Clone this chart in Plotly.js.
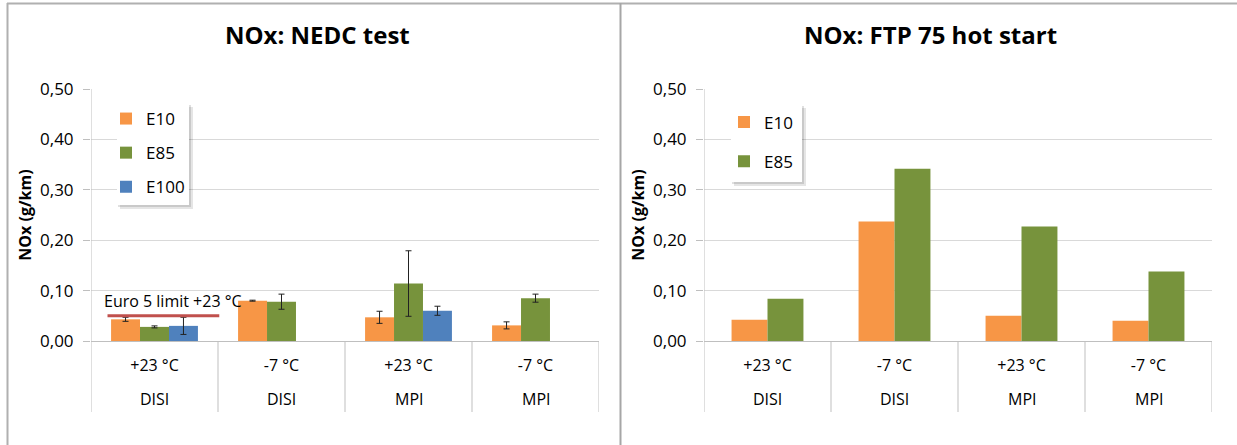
<!DOCTYPE html>
<html>
<head>
<meta charset="utf-8">
<script src="https://cdn.plot.ly/plotly-3.0.1.min.js"></script>
<style>html,body{margin:0;padding:0;background:#fff;}#chart{width:1237px;height:445px;}</style>
</head>
<body>
<div id="chart"></div>
<script>
// ---- data ----
const engines = ['DISI', 'DISI', 'MPI', 'MPI'];
const temps = ['+23 °C', '-7 °C', '+23 °C', '-7 °C'];
const fuels = ['E10', 'E85', 'E100'];

// NEDC test (g/km) and error half-widths
const nedcE10 = [0.043, 0.080, 0.047, 0.031];
const nedcE85 = [0.028, 0.078, 0.114, 0.085];
const nedcE100 = [0.030, null, 0.060, null];
const nedcE10Err = [0.004, 0.001, 0.012, 0.007];
const nedcE85Err = [0.002, 0.015, 0.065, 0.008];
const nedcE100Err = [0.017, null, 0.009, null];

// FTP 75 hot start (g/km)
const ftpE10 = [0.042, 0.237, 0.050, 0.040];
const ftpE85 = [0.084, 0.342, 0.227, 0.138];

const euro5Limit = 0.05;
const euro5Label = 'Euro 5 limit +23 °C';

const yTicks = [0, 0.1, 0.2, 0.3, 0.4, 0.5];

// ---- layout helpers ----
const W = 1237, H = 445;
const px = v => v / W;
const py = v => 1 - v / H;
const FONT = 'Open Sans, Liberation Sans, sans-serif';
const colors = {E10: '#f79646', E85: '#77933c', E100: '#4f81bd'};

const cats = engines.map((e, i) => e + '|' + temps[i] + '|' + i);

function barTrace(name, y, err, xa, ya, leg, w, k, n) {
  const t = {
    type: 'bar', name: name, x: cats, y: y,
    xaxis: xa, yaxis: ya, legend: leg, legendgroup: leg + name,
    marker: {color: colors[name], line: {width: 0}},
    width: w, offset: -n * w / 2 + k * w,
    hoverinfo: 'y'
  };
  if (err) t.error_y = {type: 'data', array: err, visible: true, color: '#222', thickness: 1, width: 3};
  return t;
}

const wL = 0.228, wR = 0.283;
const data = [
  barTrace('E10', nedcE10, nedcE10Err, 'x', 'y', 'legend', wL, 0, 3),
  barTrace('E85', nedcE85, nedcE85Err, 'x', 'y', 'legend', wL, 1, 3),
  barTrace('E100', nedcE100, nedcE100Err, 'x', 'y', 'legend', wL, 2, 3),
  barTrace('E10', ftpE10, null, 'x2', 'y2', 'legend2', wR, 0, 2),
  barTrace('E85', ftpE85, null, 'x2', 'y2', 'legend2', wR, 1, 2)
];

function xaxisDef(d0, d1, anchor) {
  return {
    domain: [px(d0), px(d1)], anchor: anchor, type: 'category',
    range: [-0.5, cats.length - 0.5], fixedrange: true,
    tickmode: 'array', tickvals: cats, ticktext: temps,
    ticks: '', showline: true, linecolor: '#bfbfbf', linewidth: 1,
    showgrid: false, zeroline: false,
    tickfont: {family: FONT, size: 16, color: '#000'},
    ticklabelstandoff: 10
  };
}
function yaxisDef(anchor) {
  return {
    domain: [py(341), py(89)], anchor: anchor, range: [0, 0.5], fixedrange: true,
    tickmode: 'array', tickvals: yTicks, tickformat: '.2f',
    ticks: 'outside', ticklen: 7, tickcolor: '#bfbfbf',
    showgrid: true, gridcolor: '#d9d9d9', gridwidth: 1,
    zeroline: false, showline: false,
    tickfont: {family: FONT, size: 17, color: '#000'},
    ticklabelstandoff: 6,
    title: {text: 'NOx (g/km)', font: {family: FONT, size: 16, color: '#000', weight: 'bold'}, standoff: 4}
  };
}

const shapes = [];
const annotations = [];
// category separators (including axis line on left) and outer category labels
[['x', 'y'], ['x2', 'y2']].forEach(([xa, ya]) => {
  for (let i = 0; i <= cats.length; i++) {
    shapes.push({type: 'line', xref: xa, yref: ya + ' domain',
      x0: i - 0.5, x1: i - 0.5, y0: -(412 - 341) / 252, y1: i === 0 ? 1 : 0,
      line: {color: '#bfbfbf', width: 1}, layer: 'above'});
  }
  engines.forEach((e, i) => {
    annotations.push({text: e, xref: xa, yref: 'paper', x: cats[i], y: py(399),
      xanchor: 'center', yanchor: 'middle', showarrow: false,
      font: {family: FONT, size: 16, color: '#000'}});
  });
});
// Euro 5 limit line
shapes.push({type: 'line', xref: 'x', yref: 'y', x0: -0.37, x1: 0.51,
  y0: euro5Limit, y1: euro5Limit, line: {color: '#c0504d', width: 3}, layer: 'above'});

// legend boxes with shadow
function legendBox(x0, y0, x1, y1) {
  shapes.push({type: 'rect', xref: 'paper', yref: 'paper', x0: px(x0 + 3), x1: px(x1 + 4), y0: py(y1 + 4), y1: py(y0 + 3),
    fillcolor: 'rgba(0,0,0,0.10)', line: {width: 0}, layer: 'above'});
  shapes.push({type: 'rect', xref: 'paper', yref: 'paper', x0: px(x0 + 1), x1: px(x1 + 2), y0: py(y1 + 2), y1: py(y0 + 1),
    fillcolor: 'rgba(0,0,0,0.12)', line: {width: 0}, layer: 'above'});
  shapes.push({type: 'rect', xref: 'paper', yref: 'paper', x0: px(x0), x1: px(x1), y0: py(y1), y1: py(y0),
    fillcolor: '#ffffff', line: {width: 0}, layer: 'above'});
}
legendBox(117, 104, 189, 205);
legendBox(731, 105, 802, 182);

// panel borders
const bc = '#b0b0b0';
shapes.push({type: 'line', xref: 'paper', yref: 'paper', x0: px(7.5), x1: px(7.5), y0: 0, y1: py(3), line: {color: bc, width: 2}});
shapes.push({type: 'line', xref: 'paper', yref: 'paper', x0: px(7), x1: 1, y0: py(3.5), y1: py(3.5), line: {color: bc, width: 2}});
shapes.push({type: 'line', xref: 'paper', yref: 'paper', x0: px(620.5), x1: px(620.5), y0: 0, y1: py(3), line: {color: '#a6a6a6', width: 2}});

annotations.push(
  {text: '<b>NOx: NEDC test</b>', xref: 'paper', yref: 'paper', x: px(317), y: py(35),
   xanchor: 'center', yanchor: 'middle', showarrow: false, font: {family: FONT, size: 24, color: '#000'}},
  {text: '<b>NOx: FTP 75 hot start</b>', xref: 'paper', yref: 'paper', x: px(930), y: py(35),
   xanchor: 'center', yanchor: 'middle', showarrow: false, font: {family: FONT, size: 24, color: '#000'}},
  {text: euro5Label, xref: 'x', yref: 'y', x: -0.41, y: 0.079, xanchor: 'left', yanchor: 'middle',
   showarrow: false, font: {family: FONT, size: 16, color: '#000'}}
);

const legendCommon = {
  orientation: 'v', bgcolor: 'rgba(0,0,0,0)', borderwidth: 0,
  font: {family: FONT, size: 17, color: '#000'}, traceorder: 'grouped',
  xanchor: 'left', yanchor: 'top', xref: 'paper', yref: 'paper'
};

const layout = {
  width: W, height: H, margin: {l: 0, r: 0, t: 0, b: 0},
  paper_bgcolor: '#fff', plot_bgcolor: 'rgba(0,0,0,0)',
  separators: ',.', barmode: 'overlay', showlegend: true,
  xaxis: xaxisDef(91, 599, 'y'),
  yaxis: yaxisDef('x'),
  xaxis2: xaxisDef(704, 1212, 'y2'),
  yaxis2: yaxisDef('x2'),
  legend: Object.assign({}, legendCommon, {x: px(106), y: py(101), tracegroupgap: 9}),
  legend2: Object.assign({}, legendCommon, {x: px(724), y: py(104.5), tracegroupgap: 14}),
  shapes: shapes, annotations: annotations
};

Plotly.newPlot('chart', data, layout, {displayModeBar: false, staticPlot: true});
</script>
</body>
</html>
